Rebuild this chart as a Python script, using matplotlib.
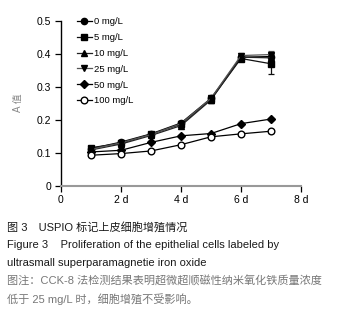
import matplotlib
matplotlib.use("Agg")
import matplotlib.pyplot as plt

days = [1, 2, 3, 4, 5, 6, 7]
series_labels = ["0 mg/L", "5 mg/L", "10 mg/L", "25 mg/L", "50 mg/L", "100 mg/L"]
v0 = [0.112, 0.132, 0.157, 0.190, 0.265, 0.390, 0.392]
v5 = [0.115, 0.128, 0.156, 0.186, 0.262, 0.386, 0.370]
v10 = [0.108, 0.126, 0.152, 0.182, 0.260, 0.390, 0.388]
v25 = [0.110, 0.130, 0.155, 0.188, 0.265, 0.395, 0.398]
v50 = [0.102, 0.107, 0.131, 0.151, 0.158, 0.188, 0.202]
v100 = [0.092, 0.097, 0.105, 0.124, 0.148, 0.157, 0.165]
e0 = [0.003, 0.004, 0.004, 0.005, 0.008, 0.008, 0.010]
e5 = [0.004, 0.004, 0.004, 0.005, 0.010, 0.008, 0.030]
e10 = [0.003, 0.003, 0.004, 0.005, 0.008, 0.008, 0.010]
e25 = [0.003, 0.004, 0.004, 0.005, 0.008, 0.008, 0.012]
e50 = [0.002, 0.002, 0.003, 0.003, 0.003, 0.003, 0.004]
e100 = [0.002, 0.002, 0.003, 0.003, 0.003, 0.003, 0.004]
xticks = [0, 2, 4, 6, 8]
xtick_labels = ["0", "2 d", "4 d", "6 d", "8 d"]
yticks = [0, 0.1, 0.2, 0.3, 0.4, 0.5]
ytick_labels = ["0", "0.1", "0.2", "0.3", "0.4", "0.5"]

fam = ["Liberation Sans", "Noto Sans CJK SC", "DejaVu Sans"]
plt.rcParams["font.family"] = fam

fig = plt.figure(figsize=(3.45, 3.14), dpi=100)
ax = fig.add_axes([61/345, 1-185.5/314, 240/345, 164.5/314])

vals = [v0, v5, v10, v25, v50, v100]
errs = [e0, e5, e10, e25, e50, e100]
markers = ["o", "s", "^", "v", "D", "o"]
msizes = [4.5, 5.0, 4.8, 4.8, 3.6, 4.8]
colors = ["#000000", "#111111", "#222222", "#555555", "#000000", "#000000"]
handles = []
for v, e, m, ms, lab, c in zip(vals, errs, markers, msizes, series_labels, colors):
    mfc = "white" if lab == "100 mg/L" else "black"
    cont = ax.errorbar(days, v, yerr=e, marker=m, ms=ms, color=c, mfc=mfc, mec="black",
                       lw=0.9, capsize=2.5, elinewidth=0.9, capthick=0.9, label=lab)
    handles.append(cont[0])

ax.set_xlim(0, 8)
ax.set_ylim(0, 0.5)
ax.set_xticks(xticks)
ax.set_xticklabels(xtick_labels)
ax.set_yticks(yticks)
ax.set_yticklabels(ytick_labels)
ax.tick_params(labelsize=7.5, length=4, width=0.9, pad=3)
ax.spines["top"].set_visible(False)
ax.spines["right"].set_visible(False)
ax.spines["bottom"].set_color("#999999")
ax.spines["bottom"].set_linewidth(1.5)
ax.spines["left"].set_linewidth(1.0)
ax.set_ylabel("A 值", fontsize=7, color="#888888", labelpad=10)

ax.legend(handles, series_labels, loc="upper left", bbox_to_anchor=(0.05, 1.045), frameon=False,
          fontsize=6.8, handlelength=1.6, handletextpad=0.25, labelspacing=0.72, borderaxespad=0)

black = "#1a1a1a"
grey = "#777777"
fs = 8
fig.text(7/345, 1-227/314, "图 3　USPIO 标记上皮细胞增殖情况", fontsize=fs, color=black, va="center")
fig.text(7/345, 1-245/314, "Figure 3    Proliferation of the epithelial cells labeled by", fontsize=fs, color=black, va="center")
fig.text(7/345, 1-263/314, "ultrasmall superparamagnetie iron oxide", fontsize=fs, color=black, va="center")
fig.text(7/345, 1-281/314, "图注：CCK-8 法检测结果表明超微超顺磁性纳米氧化铁质量浓度", fontsize=fs, color=grey, va="center")
fig.text(7/345, 1-299/314, "低于 25 mg/L 时，细胞增殖不受影响。", fontsize=fs, color=grey, va="center")

fig.savefig("out.png", dpi=100)
